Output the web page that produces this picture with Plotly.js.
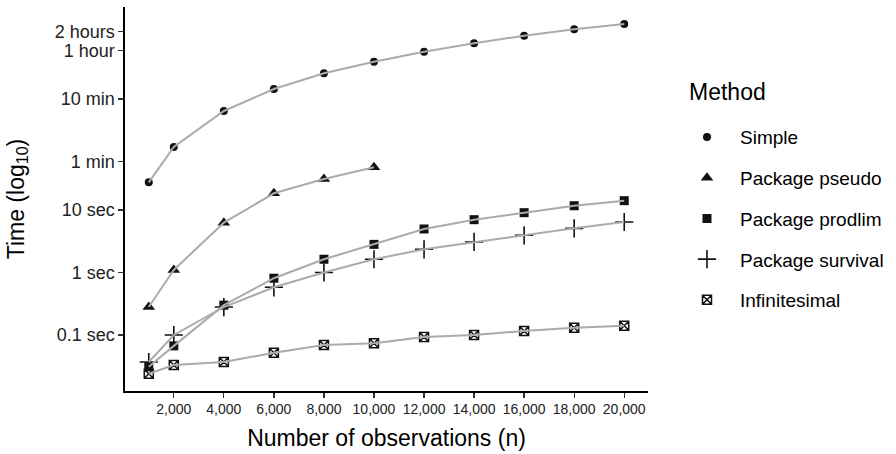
<!DOCTYPE html>
<html>
<head>
<meta charset="utf-8">
<script src="https://cdn.plot.ly/plotly-3.0.1.min.js"></script>
<style>html,body{margin:0;padding:0;background:#fff}#chart{width:896px;height:454px}</style>
</head>
<body>
<div id="chart"></div>
<script>
// Data (time in seconds)
const nObs = [1000, 2000, 4000, 6000, 8000, 10000, 12000, 14000, 16000, 18000, 20000];
const simple = [27.7, 102, 384, 863, 1538, 2360, 3412, 4645, 6152, 7780, 9462];
const nPseudo = [1000, 2000, 4000, 6000, 8000, 10000];
const pseudo = [0.28, 1.10, 6.27, 18.5, 31.3, 48.2];
const prodlim = [0.031, 0.067, 0.30, 0.81, 1.63, 2.82, 4.97, 7.0, 9.06, 11.7, 14.1];
const survival = [0.037, 0.10, 0.28, 0.58, 1.0, 1.63, 2.35, 3.08, 3.94, 5.09, 6.43];
const infinitesimal = [0.024, 0.033, 0.037, 0.052, 0.069, 0.074, 0.093, 0.10, 0.116, 0.131, 0.141];

const methodNames = ["Simple", "Package pseudo", "Package prodlim", "Package survival", "Infinitesimal"];
const legendTitle = "Method";
const xTickVals = [2000, 4000, 6000, 8000, 10000, 12000, 14000, 16000, 18000, 20000];
const xTickText = ["2,000", "4,000", "6,000", "8,000", "10,000", "12,000", "14,000", "16,000", "18,000", "20,000"];
const yTickVals = [0.1, 1, 10, 60, 600, 3600, 7200];
const yTickText = ["0.1 sec", "1 sec", "10 sec", "1 min", "10 min", "1 hour", "2 hours"];

const series = [
  {name: methodNames[0], x: nObs, y: simple, symbol: "circle", size: 8, lw: 0},
  {name: methodNames[1], x: nPseudo, y: pseudo, symbol: "triangle-up", size: 11, lw: 0},
  {name: methodNames[2], x: nObs, y: prodlim, symbol: "square", size: 9, lw: 0},
  {name: methodNames[3], x: nObs, y: survival, symbol: "cross-thin-open", size: 13, lw: 1.6},
  {name: methodNames[4], x: nObs, y: infinitesimal, symbol: "square-x-open", size: 9, lw: 1.5}
];

const FONT = "Liberation Sans, Arial, Helvetica, sans-serif";
const traces = [];
series.forEach((s, i) => {
  traces.push({
    type: "scatter", mode: "markers", name: s.name, x: s.x, y: s.y,
    legendgroup: "g" + i,
    marker: {symbol: s.symbol, size: s.size, color: "#111111",
             line: {color: "#111111", width: s.lw}},
    hoverinfo: "skip"
  });
});
series.forEach((s, i) => {
  traces.push({
    type: "scatter", mode: "lines", name: s.name, x: s.x, y: s.y,
    showlegend: false, legendgroup: "g" + i,
    line: {color: "#ababab", width: 2},
    hoverinfo: "skip"
  });
});

const layout = {
  width: 896, height: 454,
  margin: {l: 125, r: 248, t: 7, b: 63},
  paper_bgcolor: "#ffffff", plot_bgcolor: "#ffffff",
  font: {family: FONT, color: "#000000"},
  showlegend: true,
  xaxis: {
    range: [50, 20950], tickvals: xTickVals, ticktext: xTickText,
    showgrid: false, zeroline: false,
    showline: true, linecolor: "#000000", linewidth: 1.6,
    ticks: "outside", ticklen: 5, tickwidth: 1.3, tickcolor: "#333333",
    tickfont: {family: FONT, size: 14, color: "#222222"},
    title: {text: "Number of observations (n)", font: {family: FONT, size: 23, color: "#000"}, standoff: 13}
  },
  yaxis: {
    type: "log", range: [-1.896, 4.248], tickvals: yTickVals, ticktext: yTickText,
    showgrid: false, zeroline: false,
    showline: true, linecolor: "#000000", linewidth: 1.6,
    ticks: "outside", ticklen: 5, tickwidth: 1.3, tickcolor: "#333333",
    tickfont: {family: FONT, size: 18, color: "#222222"},
    title: {text: "Time (log<sub>10</sub>)", font: {family: FONT, size: 23, color: "#000"}, standoff: 24}
  },
  legend: {
    x: 1.0497, xanchor: "left", y: 0.7105, yanchor: "top",
    itemwidth: 56, traceorder: "grouped", tracegroupgap: 13,
    font: {family: FONT, size: 19, color: "#000"},
    bgcolor: "rgba(0,0,0,0)", borderwidth: 0
  },
  annotations: [{
    text: legendTitle, xref: "paper", yref: "paper", x: 1.0746, y: 0.7786,
    xanchor: "left", yanchor: "middle", showarrow: false,
    font: {family: FONT, size: 23, color: "#000"}
  }]
};

Plotly.newPlot("chart", traces, layout, {displayModeBar: false, staticPlot: true});
</script>
</body>
</html>
